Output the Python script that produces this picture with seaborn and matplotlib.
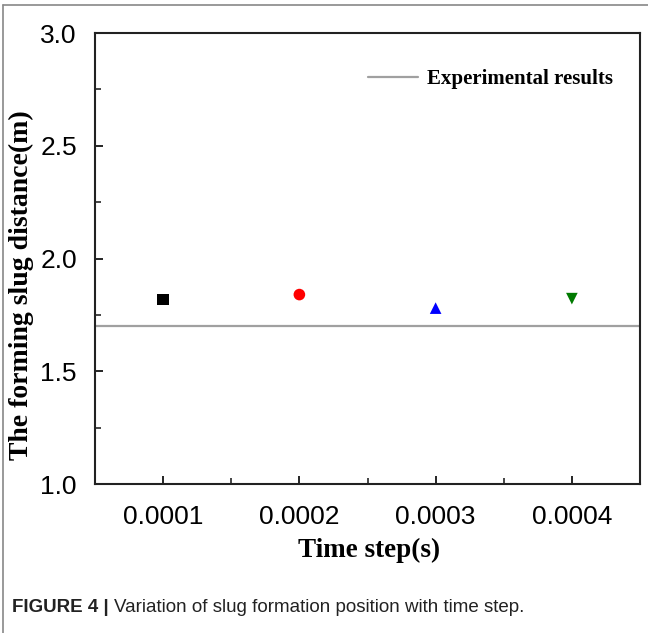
import matplotlib
matplotlib.use("Agg")
import matplotlib.pyplot as plt
from matplotlib.lines import Line2D
import seaborn as sns
import pandas as pd

# Data
time_steps = [0.0001, 0.0002, 0.0003, 0.0004]
slug_distance = [1.818, 1.840, 1.780, 1.822]
series_names = ["0.0001", "0.0002", "0.0003", "0.0004"]
experimental = 1.70
x_tick_labels = ["0.0001", "0.0002", "0.0003", "0.0004"]
y_ticks = [1.0, 1.5, 2.0, 2.5, 3.0]

df = pd.DataFrame({"step": time_steps, "dist": slug_distance, "name": series_names})

sns.set_theme(style="white")
plt.rcParams['font.family'] = ['Liberation Sans', 'DejaVu Sans']
plt.rcParams['text.color'] = 'black'

W, H = 648, 633
fig = plt.figure(figsize=(W / 100, H / 100), dpi=100)
ax = fig.add_axes([95 / W, 1 - 484 / H, (640 - 95) / W, (484 - 33) / H])

palette = {"0.0001": "black", "0.0002": "#ff0000", "0.0003": "#0000ff", "0.0004": "#007a00"}
markers = {"0.0001": "s", "0.0002": "o", "0.0003": "^", "0.0004": "v"}
sns.scatterplot(data=df, x="step", y="dist", hue="name", style="name",
                palette=palette, markers=markers, s=70, linewidth=0, ax=ax, legend=False)

ax.axhline(experimental, color="#a0a0a0", lw=1.6, zorder=1)

ax.set_xlim(0.00005, 0.00045)
ax.set_ylim(1.0, 3.0)
ax.set_xticks(time_steps)
ax.set_xticklabels(x_tick_labels)
ax.set_xticks([0.00015, 0.00025, 0.00035], minor=True)
ax.set_yticks(y_ticks)
ax.set_yticklabels([f"{v:.1f}" for v in y_ticks])
ax.set_yticks([1.25, 1.75, 2.25, 2.75], minor=True)

ax.tick_params(axis="both", which="major", direction="in", length=6, width=1.2,
               labelsize=19, colors="black")
ax.tick_params(axis="x", which="major", pad=15)
ax.tick_params(axis="y", which="major", pad=13)
ax.tick_params(axis="both", which="minor", direction="in", length=4, width=1.2)
ax.tick_params(bottom=True, left=True, top=False, right=False, which="both")

for sp in ax.spines.values():
    sp.set_color("#222222")
    sp.set_linewidth(1.5)

serif = ['Liberation Serif', 'DejaVu Serif']
ax.set_xlabel("")
ax.set_ylabel("")
fig.text(369 / W, 1 - 550 / H, "Time step(s)", fontsize=19.5, fontweight="bold",
         family=serif, color="black", ha="center", va="center")
fig.text(21 / W, 1 - 285 / H, "The forming slug distance(m)", fontsize=20, fontweight="bold",
         family=serif, color="black", ha="center", va="center", rotation=90)

leg_handle = Line2D([], [], color="#a0a0a0", lw=1.6)
leg = ax.legend([leg_handle], ["Experimental results"], loc="upper right",
                bbox_to_anchor=(0.985, 0.962), frameon=False, handlelength=2.4,
                handletextpad=0.45, prop={"family": serif, "weight": "bold", "size": 15})

# figure caption
t1 = fig.text(12 / W, 1 - 608 / H, "FIGURE 4 |", fontsize=13.5, fontweight="bold",
              color="#222222", va="center", ha="left")
fig.canvas.draw()
bb = t1.get_window_extent(fig.canvas.get_renderer())
fig.text((bb.x1 + 5) / W, 1 - 608 / H, "Variation of slug formation position with time step.",
         fontsize=13.5, color="#222222", va="center", ha="left")

# frame lines
fig.add_artist(Line2D([3 / W, 1], [1 - 5 / H, 1 - 5 / H], color="#888888", lw=1.2, transform=fig.transFigure))
fig.add_artist(Line2D([3 / W, 3 / W], [0, 1 - 5 / H], color="#888888", lw=1.2, transform=fig.transFigure))

fig.savefig("out.png", dpi=100, facecolor="white")
